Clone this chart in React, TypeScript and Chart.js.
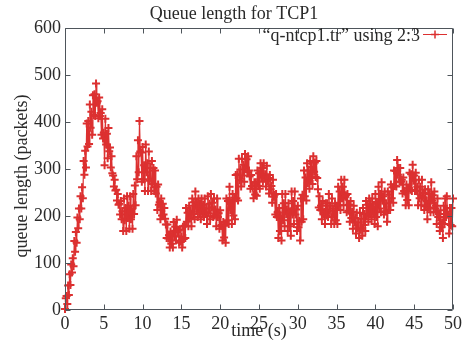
import React, { useEffect, useRef } from "react";
import { Chart, registerables } from "chart.js";

Chart.register(...registerables);

// Queue length samples (packets), one every 0.1 s from t = 0 to t = 50 s
const sampleStep = 0.1;
const queueLength: number[] = [
  2, 25, 30, 13, 52, 32, 76, 53, 97, 80, 110, 93, 147, 124, 166, 143, 197, 174, 216, 193,
  242, 216, 261, 238, 317, 288, 339, 303, 397, 348, 402, 353, 437, 388, 422, 373, 457, 415, 459, 413,
  482, 441, 444, 408, 452, 413, 419, 373, 427, 365, 377, 308, 407, 352, 375, 323, 387, 338, 346, 303,
  327, 291, 286, 263, 277, 254, 256, 233, 247, 224, 226, 203, 232, 193, 210, 168, 237, 191, 217, 168,
  242, 196, 222, 173, 242, 193, 215, 173, 247, 204, 265, 223, 327, 278, 361, 293, 402, 337, 335, 273,
  347, 278, 308, 253, 352, 293, 312, 253, 337, 275, 302, 253, 317, 268, 302, 253, 297, 248, 262, 213,
  267, 224, 229, 193, 237, 201, 226, 203, 217, 194, 182, 153, 182, 152, 159, 133, 167, 141, 162, 133,
  187, 157, 177, 148, 192, 166, 169, 143, 172, 146, 156, 133, 177, 151, 179, 153, 217, 188, 207, 178,
  222, 196, 211, 178, 237, 204, 229, 193, 252, 216, 228, 198, 237, 208, 226, 193, 237, 204, 224, 198,
  237, 208, 216, 183, 242, 206, 226, 193, 247, 218, 228, 198, 237, 201, 214, 178, 237, 198, 206, 173,
  212, 179, 181, 148, 187, 154, 179, 143, 237, 191, 232, 183, 262, 213, 229, 183, 247, 201, 239, 193,
  287, 238, 289, 233, 322, 276, 299, 263, 322, 286, 309, 273, 332, 302, 321, 293, 327, 297, 284, 258,
  287, 264, 264, 238, 272, 246, 272, 243, 297, 264, 291, 258, 312, 282, 302, 273, 312, 282, 289, 263,
  307, 274, 281, 248, 287, 257, 264, 228, 277, 241, 245, 203, 247, 198, 208, 153, 217, 168, 200, 148,
  247, 191, 227, 178, 247, 204, 214, 168, 227, 178, 210, 158, 252, 203, 232, 183, 252, 203, 214, 168,
  222, 176, 190, 148, 237, 188, 245, 193, 297, 242, 282, 233, 312, 270, 297, 258, 317, 281, 304, 268,
  327, 294, 314, 283, 317, 281, 257, 218, 242, 213, 222, 193, 232, 203, 209, 183, 227, 201, 227, 198,
  247, 211, 222, 183, 237, 198, 216, 183, 227, 191, 222, 183, 262, 223, 252, 213, 277, 238, 262, 223,
  277, 241, 244, 208, 247, 211, 224, 188, 232, 196, 209, 173, 222, 186, 196, 163, 207, 174, 186, 153,
  207, 171, 194, 158, 217, 181, 204, 168, 232, 199, 224, 188, 237, 204, 226, 193, 237, 204, 219, 183,
  247, 198, 230, 178, 262, 216, 247, 208, 272, 233, 242, 203, 252, 210, 227, 188, 252, 213, 246, 213,
  267, 238, 261, 228, 297, 264, 296, 263, 319, 288, 302, 273, 302, 273, 277, 248, 282, 253, 252, 223,
  267, 234, 259, 223, 292, 256, 289, 253, 309, 275, 286, 253, 292, 253, 262, 223, 277, 238, 262, 223,
  277, 241, 249, 213, 257, 221, 232, 193, 257, 218, 247, 208, 272, 233, 244, 208, 252, 216, 222, 183,
  237, 198, 204, 168, 212, 176, 186, 153, 222, 183, 237, 198, 242, 206, 202, 163, 217, 181, 217, 178,
  237,
];
const times: number[] = queueLength.map((_, i) => Math.round(i * sampleStep * 10) / 10);

const xTickValues = [0, 5, 10, 15, 20, 25, 30, 35, 40, 45, 50];
const yTickValues = [0, 100, 200, 300, 400, 500, 600];

const titleText = "Queue length for TCP1";
const legendText = "\u201Cq-ntcp1.tr\u201D using 2:3";
const xTitle = "time (s)";
const yTitle = "queue length (packets)";

const RED = "rgb(220,48,48)";
const FRAME = "#4e555b";
const TEXT = "#2a2a2a";
const FAMILY = "'Liberation Serif', 'Times New Roman', serif";
const FONT = "18px " + FAMILY;

const overlayPlugin = {
  id: "gnuplotOverlay",
  afterDraw(chart: any) {
    const { ctx, chartArea } = chart;
    const { left, right, top, bottom } = chartArea;
    const xs = chart.scales.x;
    const ys = chart.scales.y;
    ctx.save();
    ctx.strokeStyle = FRAME;
    ctx.lineWidth = 1;
    const L = Math.round(left) + 0.5;
    const R = Math.round(right) - 0.5;
    const T = Math.round(top) + 0.5;
    const B = Math.round(bottom) - 0.5;
    ctx.beginPath();
    ctx.rect(L, T, R - L, B - T);
    ctx.stroke();
    const tl = 5;
    ctx.beginPath();
    xTickValues.forEach((v) => {
      const px = Math.round(xs.getPixelForValue(v)) + 0.5;
      ctx.moveTo(px, B);
      ctx.lineTo(px, B - tl);
      ctx.moveTo(px, T);
      ctx.lineTo(px, T + tl);
    });
    yTickValues.forEach((v) => {
      const py = Math.round(ys.getPixelForValue(v)) + 0.5;
      ctx.moveTo(L, py);
      ctx.lineTo(L + tl, py);
      ctx.moveTo(R, py);
      ctx.lineTo(R - tl, py);
    });
    ctx.stroke();

    ctx.fillStyle = TEXT;
    ctx.font = FONT;
    ctx.textBaseline = "middle";
    ctx.textAlign = "center";
    ctx.fillText(titleText, 234, 14);
    ctx.fillText(xTitle, 259, 331);
    ctx.save();
    ctx.translate(22, 176);
    ctx.rotate(-Math.PI / 2);
    ctx.fillText(yTitle, 0, 0);
    ctx.restore();
    ctx.textAlign = "right";
    ctx.fillText(legendText, 420, 36);
    ctx.strokeStyle = RED;
    ctx.lineWidth = 1;
    ctx.beginPath();
    ctx.moveTo(423, 34.5);
    ctx.lineTo(447, 34.5);
    ctx.stroke();
    ctx.lineWidth = 1.5;
    ctx.beginPath();
    ctx.moveTo(431, 34.5);
    ctx.lineTo(439, 34.5);
    ctx.moveTo(435, 30.5);
    ctx.lineTo(435, 38.5);
    ctx.stroke();
    ctx.restore();
  },
};

export default function App() {
  const ref = useRef<HTMLCanvasElement | null>(null);
  useEffect(() => {
    if (!ref.current) return;
    const chart = new Chart(ref.current, {
      type: "line",
      data: {
        datasets: [
          {
            label: legendText,
            data: times.map((t, i) => ({ x: t, y: queueLength[i] })),
            borderColor: RED,
            backgroundColor: RED,
            borderWidth: 1.2,
            pointStyle: "cross",
            pointRadius: 4,
            pointBorderWidth: 2,
            pointBorderColor: RED,
            tension: 0,
            clip: 6,
          },
        ],
      },
      options: {
        animation: false,
        responsive: false,
        devicePixelRatio: 1,
        layout: { padding: { top: 28, right: 9, left: 0, bottom: 0 } },
        plugins: {
          legend: { display: false },
          title: { display: false },
          tooltip: { enabled: false },
        },
        scales: {
          x: {
            type: "linear",
            min: 0,
            max: 50,
            grid: { display: false, drawTicks: false },
            border: { display: false },
            ticks: {
              stepSize: 5,
              padding: 3,
              color: TEXT,
              maxRotation: 0,
              font: { family: FAMILY, size: 18 },
            },
            afterFit: (s: any) => {
              s.height = 36;
            },
          },
          y: {
            min: 0,
            max: 600,
            grid: { display: false, drawTicks: false },
            border: { display: false },
            ticks: {
              stepSize: 100,
              padding: 4,
              color: TEXT,
              font: { family: FAMILY, size: 18 },
            },
            afterFit: (s: any) => {
              s.width = 65;
            },
          },
        },
      },
      plugins: [overlayPlugin],
    });
    return () => chart.destroy();
  }, []);
  return (
    <div style={{ position: "absolute", left: 0, top: 0, width: 465, height: 346, background: "#fff" }}>
      <canvas ref={ref} width={465} height={346} style={{ display: "block" }} />
    </div>
  );
}
